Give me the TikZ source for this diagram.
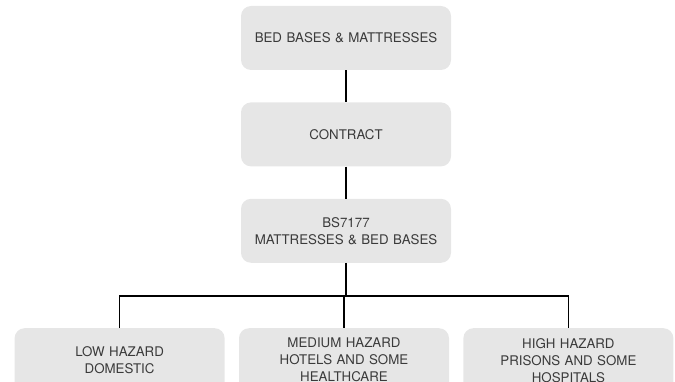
\documentclass[tikz,border=0pt]{standalone}
\usepackage{fontspec}
\setmainfont{TeX Gyre Heros}
\usetikzlibrary{positioning}
\definecolor{boxgray}{HTML}{E6E6E6}
\definecolor{txtgray}{HTML}{3A3A3A}
\tikzset{
  catbox/.style={fill=boxgray,rounded corners=10pt,minimum width=210pt,minimum height=64pt,
    text width=205pt,align=center,inner sep=0pt,text=txtgray,
    font=\fontsize{13.3}{17}\selectfont},
  link/.style={line width=1.4pt}
}
\begin{document}
\begin{tikzpicture}[x=1pt,y=-1pt]
    \def\picw{675} \def\pich{382} % Kích thước
    \useasboundingbox (0,0) rectangle (\picw,\pich);
    \clip (0,0) rectangle (\picw,\pich);
    \node[catbox] (beds) at (346,38) {BED BASES \& MATTRESSES};
    \node[catbox,below=32pt of beds] (contract) {CONTRACT};
    \node[catbox,below=32pt of contract] (bs) {BS7177\\MATTRESSES \& BED BASES};
    \node[catbox,below=65pt of bs,xshift=-2pt] (medium) {MEDIUM HAZARD\\HOTELS AND SOME\\HEALTHCARE};
    \node[catbox,left=14pt of medium] (low) {LOW HAZARD\\DOMESTIC};
    \node[catbox,right=14pt of medium] (high) {HIGH HAZARD\\PRISONS AND SOME\\HOSPITALS};
    \coordinate (split) at (346,296);
    \draw[link] (beds) -- (contract);
    \draw[link] (contract) -- (bs);
    \draw[link] (bs) -- (bs.south |- split);
    \draw[link] (low.north) -- (low.north |- split) -- (high.north |- split) -- (high.north);
    \draw[link] (medium.north |- split) -- (medium.north);
\end{tikzpicture}
\end{document}
